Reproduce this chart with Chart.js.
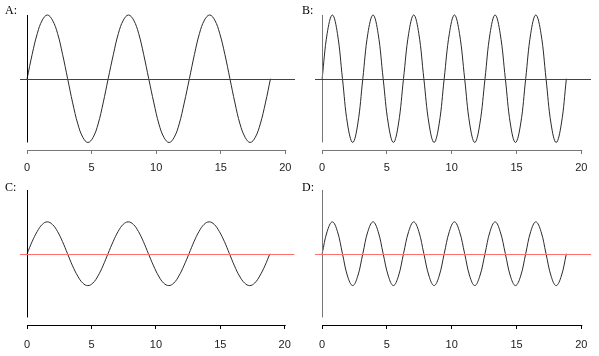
<!DOCTYPE html>
<html>
<head>
<meta charset="utf-8">
<script src="https://cdn.jsdelivr.net/npm/chart.js@4/dist/chart.umd.min.js"></script>
<style>
  body { margin: 0; background: #fff; width: 599px; height: 356px; overflow: hidden; position: relative; }
  canvas { position: absolute; }
  .lbl { position: absolute; font: 12px "Liberation Serif", serif; color: #000; }
</style>
</head>
<body>
<canvas id="cA" width="300" height="180" style="left:0;top:0"></canvas>
<canvas id="cB" width="299" height="180" style="left:300px;top:0"></canvas>
<canvas id="cC" width="300" height="181" style="left:0;top:175px"></canvas>
<canvas id="cD" width="299" height="181" style="left:300px;top:175px"></canvas>
<div class="lbl" style="left:5px;top:3px">A:</div>
<div class="lbl" style="left:302px;top:3px">B:</div>
<div class="lbl" style="left:5px;top:180px">C:</div>
<div class="lbl" style="left:302px;top:180px">D:</div>
<script>
// x positions (steps of ~pi/8, 0 .. 6*pi)
const xs = [0, 0.39, 0.79, 1.18, 1.57, 1.96, 2.36, 2.75, 3.14, 3.53, 3.93, 4.32, 4.71, 5.11, 5.50, 5.89,
  6.28, 6.68, 7.07, 7.46, 7.85, 8.25, 8.64, 9.03, 9.42, 9.82, 10.21, 10.60, 11.00, 11.39, 11.78, 12.17,
  12.57, 12.96, 13.35, 13.74, 14.14, 14.53, 14.92, 15.32, 15.71, 16.10, 16.49, 16.89, 17.28, 17.67, 18.06, 18.46, 18.85];

// panel A: slow wave, full height
const waveA = [0, 0.38, 0.71, 0.92, 1, 0.92, 0.71, 0.38, 0, -0.38, -0.71, -0.92, -1, -0.92, -0.71, -0.38,
  0, 0.38, 0.71, 0.92, 1, 0.92, 0.71, 0.38, 0, -0.38, -0.71, -0.92, -1, -0.92, -0.71, -0.38,
  0, 0.38, 0.71, 0.92, 1, 0.92, 0.71, 0.38, 0, -0.38, -0.71, -0.92, -1, -0.92, -0.71, -0.38, 0];

// panel B: fast wave, full height
const waveB = [0, 0.71, 1, 0.71, 0, -0.71, -1, -0.71, 0, 0.71, 1, 0.71, 0, -0.71, -1, -0.71,
  0, 0.71, 1, 0.71, 0, -0.71, -1, -0.71, 0, 0.71, 1, 0.71, 0, -0.71, -1, -0.71,
  0, 0.71, 1, 0.71, 0, -0.71, -1, -0.71, 0, 0.71, 1, 0.71, 0, -0.71, -1, -0.71, 0];

// panel C: slow wave, half height
const waveC = [0, 0.19, 0.35, 0.46, 0.5, 0.46, 0.35, 0.19, 0, -0.19, -0.35, -0.46, -0.5, -0.46, -0.35, -0.19,
  0, 0.19, 0.35, 0.46, 0.5, 0.46, 0.35, 0.19, 0, -0.19, -0.35, -0.46, -0.5, -0.46, -0.35, -0.19,
  0, 0.19, 0.35, 0.46, 0.5, 0.46, 0.35, 0.19, 0, -0.19, -0.35, -0.46, -0.5, -0.46, -0.35, -0.19, 0];

// panel D: fast wave, half height
const waveD = [0, 0.35, 0.5, 0.35, 0, -0.35, -0.5, -0.35, 0, 0.35, 0.5, 0.35, 0, -0.35, -0.5, -0.35,
  0, 0.35, 0.5, 0.35, 0, -0.35, -0.5, -0.35, 0, 0.35, 0.5, 0.35, 0, -0.35, -0.5, -0.35,
  0, 0.35, 0.5, 0.35, 0, -0.35, -0.5, -0.35, 0, 0.35, 0.5, 0.35, 0, -0.35, -0.5, -0.35, 0];

const xTicks = [0, 5, 10, 15, 20];
const yRange = [-1, 1];

// draws the R-style axes and the horizontal zero line
const axesPlugin = {
    id: 'rAxes',
    afterDatasetsDraw(chart, args, opts) {
        const ctx = chart.ctx;
        const x = chart.scales.x, y = chart.scales.y;
        const area = chart.chartArea;
        ctx.save();
        ctx.lineWidth = 1;
        // y axis
        ctx.strokeStyle = opts.yColor;
        ctx.beginPath();
        ctx.moveTo(Math.round(x.getPixelForValue(0)) + 0.5, y.getPixelForValue(yRange[1]));
        ctx.lineTo(Math.round(x.getPixelForValue(0)) + 0.5, y.getPixelForValue(yRange[0]));
        ctx.stroke();
        // x axis line
        ctx.strokeStyle = opts.xColor;
        ctx.beginPath();
        ctx.moveTo(x.getPixelForValue(xTicks[0]), Math.round(area.bottom) + 0.5);
        ctx.lineTo(x.getPixelForValue(xTicks[xTicks.length - 1]) + 1, Math.round(area.bottom) + 0.5);
        ctx.stroke();
        // zero line
        ctx.strokeStyle = opts.zeroColor;
        ctx.beginPath();
        ctx.moveTo(area.left, Math.round(y.getPixelForValue(0)) + 0.5);
        ctx.lineTo(area.right, Math.round(y.getPixelForValue(0)) + 0.5);
        ctx.stroke();
        ctx.restore();
    }
};

function makePanel(id, wave, pad, colors) {
    const ctx = document.getElementById(id).getContext('2d');
    return new Chart(ctx, {
        type: 'line',
        data: {
            datasets: [{
                data: xs.map((v, i) => ({ x: v, y: wave[i] })),
                borderColor: '#2a2a2a',
                borderWidth: 1,
                pointRadius: 0,
                tension: 0.4,
                fill: false
            }]
        },
        options: {
            responsive: false,
            animation: false,
            layout: { padding: { left: pad.left, right: pad.right, top: 13, bottom: 0 } },
            plugins: {
                legend: { display: false },
                tooltip: { enabled: false },
                rAxes: colors
            },
            scales: {
                x: {
                    type: 'linear',
                    min: -0.55,
                    max: 20.75,
                    afterBuildTicks: (scale) => { scale.ticks = xTicks.map(v => ({ value: v })); },
                    afterFit: (scale) => { scale.height = pad.axisH; },
                    grid: { display: true, drawOnChartArea: false, drawTicks: true, tickLength: 4, color: colors.xColor },
                    border: { display: false },
                    ticks: {
                        padding: pad.labelGap,
                        maxRotation: 0,
                        autoSkip: false,
                        color: '#222',
                        font: { family: 'Liberation Sans', size: 11 }
                    }
                },
                y: {
                    display: false,
                    min: -1.118,
                    max: 1.031
                }
            }
        },
        plugins: [axesPlugin]
    });
}

makePanel('cA', waveA, { left: 20, right: 5, axisH: 30, labelGap: 7 }, { xColor: '#777', yColor: '#000', zeroColor: '#dd0000' });
makePanel('cB', waveB, { left: 15, right: 8, axisH: 30, labelGap: 7 }, { xColor: '#777', yColor: '#777', zeroColor: '#dd0000' });
makePanel('cC', waveC, { left: 20, right: 5, axisH: 31, labelGap: 9 }, { xColor: '#000', yColor: '#000', zeroColor: '#ff7070' });
makePanel('cD', waveD, { left: 15, right: 8, axisH: 31, labelGap: 9 }, { xColor: '#000', yColor: '#777', zeroColor: '#ff7070' });
</script>
</body>
</html>
